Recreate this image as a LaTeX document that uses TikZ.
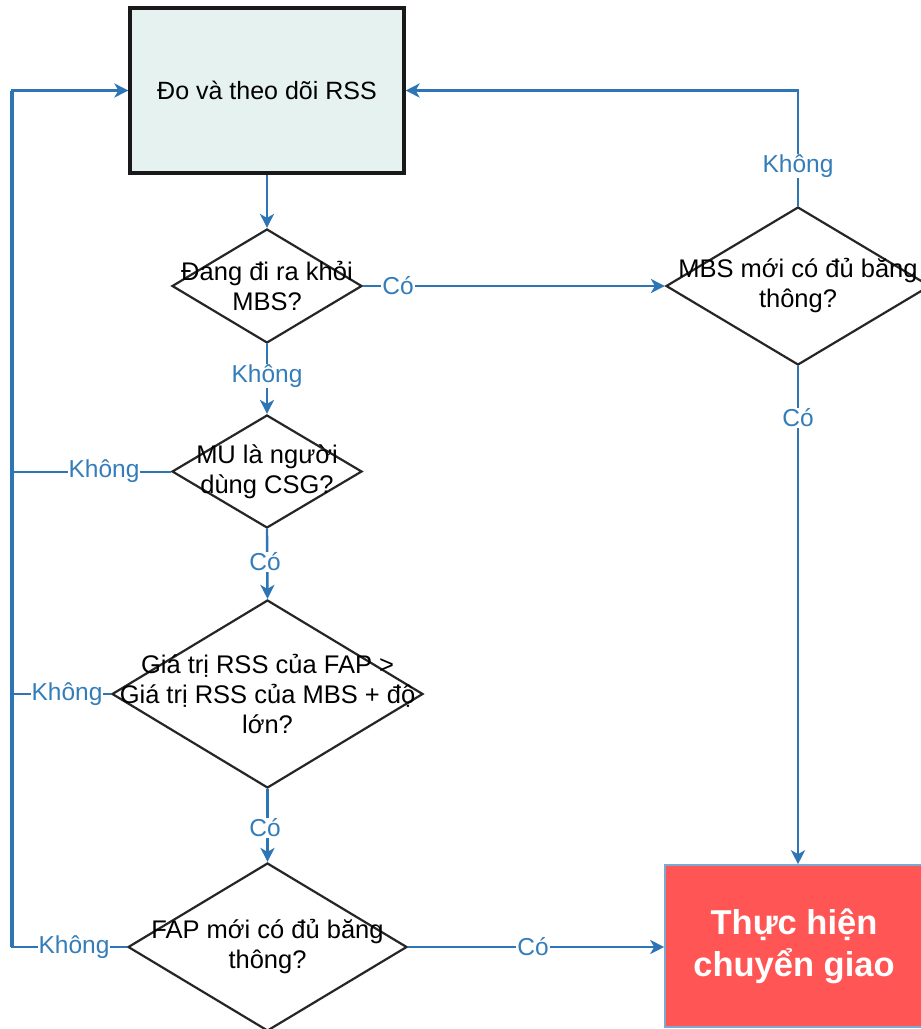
\documentclass[tikz,border=0pt]{standalone}
\usepackage{fontspec}
\setmainfont{Liberation Sans}
\usetikzlibrary{arrows.meta,shapes.geometric}
\definecolor{lineblue}{RGB}{46,117,182}
\definecolor{lblblue}{RGB}{52,125,185}
\definecolor{boxfill}{RGB}{230,242,239}
\definecolor{redfill}{RGB}{255,85,85}
\definecolor{redborder}{RGB}{120,170,210}
\begin{document}
\begin{tikzpicture}[x=1pt,y=-1pt,
  line/.style={draw=lineblue, line width=2.4pt},
  conn/.style={line, -{Stealth[length=14pt,width=14pt,inset=4pt]}},
  dia/.style={draw=black!85, line width=2.2pt, shape=diamond, inner sep=0pt, fill=white},
  dtext/.style={align=center, font=\fontsize{25.5}{30}\selectfont, inner sep=0pt},
  lbl/.style={fill=white, text=lblblue, font=\fontsize{24.5}{28}\selectfont, inner sep=1pt},
]
\useasboundingbox (0,0) rectangle (921,1029);

% nodes
\node[draw=black!90, line width=3.2pt, fill=boxfill, minimum width=274pt, minimum height=165pt, inner sep=0pt,
      font=\fontsize{25}{30}\selectfont] (box) at (267,90.5) {Đo và theo dõi RSS};
\node[draw=redborder, line width=1.6pt, fill=redfill, minimum width=258pt, minimum height=162pt, inner sep=0pt,
      text=white, align=center, font=\fontsize{34.5}{42}\selectfont\bfseries] (red) at (794,946) {Thực hiện\\chuyển giao};

\node[dia, minimum width=190pt, minimum height=114pt] (d1) at (267,286) {};
\node[dia, minimum width=264pt, minimum height=158pt] (d2) at (798,286) {};
\node[dia, minimum width=190pt, minimum height=113pt] (d3) at (267,471.5) {};
\node[dia, minimum width=311pt, minimum height=188pt] (d4) at (267.5,694) {};
\node[dia, minimum width=279pt, minimum height=168pt] (d5) at (267.5,947) {};

\node[dtext] (t1) at (d1) {Đang đi ra khỏi\\MBS?};
\node[dtext] (t2) at (d2) {MBS mới có đủ băng\\thông?};
\node[dtext] (t3) at (d3) {MU là người\\dùng CSG?};
\node[dtext] (t4) at (d4) {Giá trị RSS của FAP >\\Giá trị RSS của MBS + độ\\lớn?};
\node[dtext] (t5) at (d5) {FAP mới có đủ băng\\thông?};

\coordinate (loopTop) at (12,90.5);
\coordinate (loopBot) at (12,947);

% connectors
\draw[conn] (box.south) -- (d1.north);
\draw[conn] (d1.east) -- (d2.west);
\draw[conn] (d2.north) |- (box.east);
\draw[conn] (d2.south) -- (d2.south |- red.north);
\draw[conn] (d1.south) -- (d3.north);
\draw[conn] (d3.south) -- (d4.north);
\draw[conn] (d4.south) -- (d5.north);
\draw[conn] (d5.east) -- (d5.east -| red.west);
\draw[conn] (d5.west) -- (loopBot) -- (loopTop) -- (box.west);
\draw[line, line width=3.4pt] (loopBot) -- (loopTop);
\draw[line, line width=2pt] (d3.west) -- (d3.west -| loopTop);
\draw[line, line width=2pt] (d4.west) -- (d4.west -| loopTop);

% labels
\node[lbl] (l1) at (398,286) {Có};
\node[lbl] (l2) at (798,166) {Không};
\node[lbl] (l3) at (798,418) {Có};
\node[lbl] (l4) at (267,376) {Không};
\node[lbl] (l5) at (104,471.5) {Không};
\node[lbl] (l6) at (265,562) {Có};
\node[lbl] (l7) at (67,694) {Không};
\node[lbl] (l8) at (265,828) {Có};
\node[lbl] (l9) at (74,947) {Không};
\node[lbl] (l10) at (533,947) {Có};
\end{tikzpicture}
\end{document}
